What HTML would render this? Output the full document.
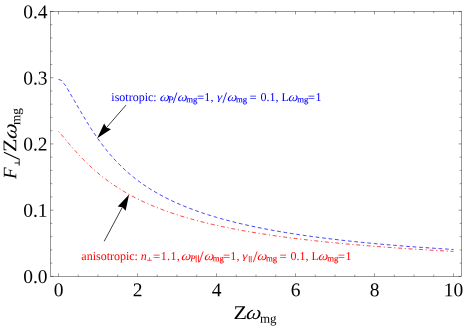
<!DOCTYPE html>
<html><head><meta charset="utf-8"><style>
html,body{margin:0;padding:0;background:#fff;}
svg{display:block;font-family:"Liberation Serif",serif;opacity:0.999;will-change:transform;}
.tk text{font-size:19.5px;fill:#000;}
.i{font-style:italic;}
</style></head><body>
<svg width="463" height="327" viewBox="0 0 463 327">
<rect width="463" height="327" fill="#fff"/>
<path d="M58.50,79.45 L59.29,79.63 L60.08,79.88 L60.87,80.18 L61.66,80.60 L62.45,81.50 L63.24,82.69 L64.03,83.72 L64.82,84.66 L65.61,85.50 L66.40,86.69 L67.19,88.28 L67.98,89.69 L68.77,91.07 L69.56,92.44 L70.35,93.80 L71.14,95.16 L71.93,96.51 L72.72,97.85 L73.51,99.20 L74.30,100.55 L75.09,101.91 L75.88,103.28 L76.67,104.65 L77.46,106.02 L78.25,107.38 L79.04,108.74 L79.83,110.10 L80.62,111.45 L81.41,112.80 L82.20,114.14 L82.99,115.48 L83.78,116.81 L84.57,118.13 L85.36,119.44 L86.15,120.74 L86.94,122.03 L87.73,123.31 L88.52,124.58 L89.31,125.84 L90.10,127.08 L90.89,128.32 L91.68,129.54 L92.47,130.75 L93.26,131.95 L94.05,133.14 L94.84,134.31 L95.63,135.47 L96.42,136.62 L97.21,137.76 L98.00,138.88 L99.97,141.63 L101.95,144.29 L103.93,146.88 L105.90,149.39 L107.88,151.81 L109.85,154.17 L111.83,156.44 L113.80,158.65 L115.78,160.78 L117.75,162.85 L119.73,164.85 L121.70,166.79 L123.68,168.67 L125.65,170.49 L127.63,172.25 L129.60,173.95 L131.58,175.61 L133.55,177.21 L135.53,178.77 L137.50,180.28 L139.48,181.74 L141.45,183.17 L143.43,184.55 L145.40,185.89 L147.38,187.20 L149.35,188.46 L151.33,189.70 L153.30,190.90 L155.28,192.07 L157.25,193.20 L159.23,194.31 L161.20,195.39 L163.18,196.44 L165.15,197.47 L167.13,198.47 L169.10,199.44 L171.08,200.40 L173.05,201.33 L175.03,202.23 L177.00,203.12 L178.98,203.99 L180.95,204.83 L182.93,205.66 L184.90,206.47 L186.88,207.26 L188.85,208.03 L190.83,208.79 L192.80,209.53 L194.78,210.26 L196.75,210.97 L198.73,211.67 L200.70,212.35 L202.68,213.02 L204.65,213.67 L206.63,214.31 L208.60,214.94 L210.58,215.56 L212.55,216.17 L214.53,216.76 L216.50,217.34 L218.48,217.91 L220.45,218.48 L222.43,219.03 L224.40,219.57 L226.38,220.10 L228.35,220.62 L230.33,221.13 L232.30,221.64 L234.28,222.13 L236.25,222.62 L238.23,223.10 L240.20,223.57 L242.18,224.03 L244.15,224.49 L246.13,224.93 L248.10,225.37 L250.08,225.81 L252.05,226.23 L254.03,226.65 L256.00,227.06 L257.98,227.47 L259.95,227.87 L261.93,228.26 L263.90,228.65 L265.88,229.03 L267.85,229.40 L269.83,229.77 L271.80,230.14 L273.78,230.50 L275.75,230.85 L277.73,231.20 L279.70,231.54 L281.68,231.88 L283.65,232.21 L285.63,232.54 L287.60,232.86 L289.58,233.18 L291.55,233.50 L293.53,233.81 L295.50,234.11 L297.48,234.41 L299.45,234.71 L301.43,235.00 L303.40,235.29 L305.38,235.58 L307.35,235.86 L309.33,236.14 L311.30,236.41 L313.28,236.68 L315.25,236.95 L317.23,237.21 L319.20,237.47 L321.18,237.73 L323.15,237.98 L325.13,238.23 L327.10,238.48 L329.08,238.72 L331.05,238.96 L333.03,239.20 L335.00,239.43 L336.98,239.67 L338.95,239.89 L340.93,240.12 L342.90,240.34 L344.88,240.56 L346.85,240.78 L348.83,241.00 L350.80,241.21 L352.78,241.42 L354.75,241.63 L356.73,241.83 L358.70,242.03 L360.68,242.23 L362.65,242.43 L364.63,242.63 L366.60,242.82 L368.58,243.01 L370.55,243.20 L372.53,243.38 L374.50,243.57 L376.48,243.75 L378.45,243.93 L380.43,244.11 L382.40,244.28 L384.38,244.46 L386.35,244.63 L388.33,244.80 L390.30,244.97 L392.28,245.13 L394.25,245.30 L396.23,245.46 L398.20,245.62 L400.18,245.78 L402.15,245.94 L404.13,246.09 L406.10,246.25 L408.08,246.40 L410.05,246.55 L412.03,246.70 L414.00,246.85 L415.98,246.99 L417.95,247.13 L419.93,247.28 L421.90,247.42 L423.88,247.56 L425.85,247.70 L427.83,247.83 L429.80,247.97 L431.78,248.10 L433.75,248.23 L435.73,248.36 L437.70,248.49 L439.68,248.62 L441.65,248.75 L443.63,248.87 L445.60,249.00 L447.58,249.12 L449.55,249.24 L451.53,249.36 L453.50,249.48" fill="none" stroke="#0000ff" stroke-width="0.75" stroke-dasharray="3.7 2.8"/>
<path d="M58.50,131.59 L59.29,132.34 L60.08,133.19 L60.87,134.08 L61.66,135.00 L62.45,135.92 L63.24,136.86 L64.03,137.80 L64.82,138.74 L65.61,139.69 L66.40,140.63 L67.19,141.57 L67.98,142.51 L68.77,143.44 L69.56,144.37 L70.35,145.30 L71.14,146.22 L71.93,147.13 L72.72,148.04 L73.51,148.94 L74.30,149.83 L75.09,150.72 L75.88,151.60 L76.67,152.47 L77.46,153.34 L78.25,154.20 L79.04,155.05 L79.83,155.89 L80.62,156.72 L81.41,157.55 L82.20,158.37 L82.99,159.18 L83.78,159.98 L84.57,160.77 L85.36,161.56 L86.15,162.34 L86.94,163.11 L87.73,163.88 L88.52,164.63 L89.31,165.38 L90.10,166.12 L90.89,166.85 L91.68,167.58 L92.47,168.29 L93.26,169.00 L94.05,169.71 L94.84,170.40 L95.63,171.09 L96.42,171.77 L97.21,172.44 L98.00,173.11 L99.97,174.74 L101.95,176.34 L103.93,177.89 L105.90,179.39 L107.88,180.86 L109.85,182.30 L111.83,183.69 L113.80,185.05 L115.78,186.37 L117.75,187.66 L119.73,188.91 L121.70,190.13 L123.68,191.32 L125.65,192.49 L127.63,193.62 L129.60,194.72 L131.58,195.80 L133.55,196.85 L135.53,197.88 L137.50,198.88 L139.48,199.86 L141.45,200.81 L143.43,201.74 L145.40,202.65 L147.38,203.54 L149.35,204.41 L151.33,205.26 L153.30,206.09 L155.28,206.90 L157.25,207.69 L159.23,208.47 L161.20,209.23 L163.18,209.97 L165.15,210.70 L167.13,211.41 L169.10,212.10 L171.08,212.79 L173.05,213.46 L175.03,214.11 L177.00,214.75 L178.98,215.38 L180.95,216.00 L182.93,216.60 L184.90,217.20 L186.88,217.78 L188.85,218.35 L190.83,218.91 L192.80,219.46 L194.78,220.00 L196.75,220.53 L198.73,221.05 L200.70,221.56 L202.68,222.06 L204.65,222.55 L206.63,223.04 L208.60,223.51 L210.58,223.98 L212.55,224.44 L214.53,224.89 L216.50,225.33 L218.48,225.77 L220.45,226.20 L222.43,226.62 L224.40,227.04 L226.38,227.45 L228.35,227.85 L230.33,228.24 L232.30,228.63 L234.28,229.02 L236.25,229.39 L238.23,229.76 L240.20,230.13 L242.18,230.49 L244.15,230.85 L246.13,231.19 L248.10,231.54 L250.08,231.88 L252.05,232.21 L254.03,232.54 L256.00,232.87 L257.98,233.19 L259.95,233.50 L261.93,233.81 L263.90,234.12 L265.88,234.42 L267.85,234.72 L269.83,235.01 L271.80,235.30 L273.78,235.59 L275.75,235.87 L277.73,236.15 L279.70,236.42 L281.68,236.69 L283.65,236.96 L285.63,237.22 L287.60,237.49 L289.58,237.74 L291.55,238.00 L293.53,238.25 L295.50,238.49 L297.48,238.74 L299.45,238.98 L301.43,239.22 L303.40,239.45 L305.38,239.68 L307.35,239.91 L309.33,240.14 L311.30,240.36 L313.28,240.58 L315.25,240.80 L317.23,241.02 L319.20,241.23 L321.18,241.44 L323.15,241.65 L325.13,241.86 L327.10,242.06 L329.08,242.26 L331.05,242.46 L333.03,242.66 L335.00,242.85 L336.98,243.04 L338.95,243.23 L340.93,243.42 L342.90,243.60 L344.88,243.79 L346.85,243.97 L348.83,244.15 L350.80,244.33 L352.78,244.50 L354.75,244.68 L356.73,244.85 L358.70,245.02 L360.68,245.19 L362.65,245.35 L364.63,245.52 L366.60,245.68 L368.58,245.84 L370.55,246.00 L372.53,246.16 L374.50,246.31 L376.48,246.47 L378.45,246.62 L380.43,246.77 L382.40,246.92 L384.38,247.07 L386.35,247.21 L388.33,247.36 L390.30,247.50 L392.28,247.65 L394.25,247.79 L396.23,247.93 L398.20,248.06 L400.18,248.20 L402.15,248.34 L404.13,248.47 L406.10,248.60 L408.08,248.73 L410.05,248.86 L412.03,248.99 L414.00,249.12 L415.98,249.24 L417.95,249.37 L419.93,249.49 L421.90,249.62 L423.88,249.74 L425.85,249.86 L427.83,249.98 L429.80,250.09 L431.78,250.21 L433.75,250.33 L435.73,250.44 L437.70,250.55 L439.68,250.67 L441.65,250.78 L443.63,250.89 L445.60,251.00 L447.58,251.11 L449.55,251.21 L451.53,251.32 L453.50,251.42" fill="none" stroke="#ff0000" stroke-width="0.75" stroke-dasharray="1.1 2.7 4 2.7"/>
<rect x="50.5" y="11.45" width="411.0" height="264.95" fill="none" stroke="#000" stroke-width="0.4"/>
<path d="M58.50,276.4 v-3.0 M58.50,11.45 v3.0 M78.25,276.4 v-1.8 M78.25,11.45 v1.8 M98.00,276.4 v-1.8 M98.00,11.45 v1.8 M117.75,276.4 v-1.8 M117.75,11.45 v1.8 M137.50,276.4 v-3.0 M137.50,11.45 v3.0 M157.25,276.4 v-1.8 M157.25,11.45 v1.8 M177.00,276.4 v-1.8 M177.00,11.45 v1.8 M196.75,276.4 v-1.8 M196.75,11.45 v1.8 M216.50,276.4 v-3.0 M216.50,11.45 v3.0 M236.25,276.4 v-1.8 M236.25,11.45 v1.8 M256.00,276.4 v-1.8 M256.00,11.45 v1.8 M275.75,276.4 v-1.8 M275.75,11.45 v1.8 M295.50,276.4 v-3.0 M295.50,11.45 v3.0 M315.25,276.4 v-1.8 M315.25,11.45 v1.8 M335.00,276.4 v-1.8 M335.00,11.45 v1.8 M354.75,276.4 v-1.8 M354.75,11.45 v1.8 M374.50,276.4 v-3.0 M374.50,11.45 v3.0 M394.25,276.4 v-1.8 M394.25,11.45 v1.8 M414.00,276.4 v-1.8 M414.00,11.45 v1.8 M433.75,276.4 v-1.8 M433.75,11.45 v1.8 M453.50,276.4 v-3.0 M453.50,11.45 v3.0 M50.5,276.40 h3.0 M461.5,276.40 h-3.0 M50.5,263.15 h1.8 M461.5,263.15 h-1.8 M50.5,249.90 h1.8 M461.5,249.90 h-1.8 M50.5,236.66 h1.8 M461.5,236.66 h-1.8 M50.5,223.41 h1.8 M461.5,223.41 h-1.8 M50.5,210.16 h3.0 M461.5,210.16 h-3.0 M50.5,196.91 h1.8 M461.5,196.91 h-1.8 M50.5,183.67 h1.8 M461.5,183.67 h-1.8 M50.5,170.42 h1.8 M461.5,170.42 h-1.8 M50.5,157.17 h1.8 M461.5,157.17 h-1.8 M50.5,143.92 h3.0 M461.5,143.92 h-3.0 M50.5,130.68 h1.8 M461.5,130.68 h-1.8 M50.5,117.43 h1.8 M461.5,117.43 h-1.8 M50.5,104.18 h1.8 M461.5,104.18 h-1.8 M50.5,90.94 h1.8 M461.5,90.94 h-1.8 M50.5,77.69 h3.0 M461.5,77.69 h-3.0 M50.5,64.44 h1.8 M461.5,64.44 h-1.8 M50.5,51.19 h1.8 M461.5,51.19 h-1.8 M50.5,37.95 h1.8 M461.5,37.95 h-1.8 M50.5,24.70 h1.8 M461.5,24.70 h-1.8 M50.5,11.45 h3.0 M461.5,11.45 h-3.0" fill="none" stroke="#000" stroke-width="0.4"/>
<g class="tk"><text transform="translate(58.50,296.30) rotate(0.03)" text-anchor="middle">0</text><text transform="translate(137.50,296.30) rotate(0.03)" text-anchor="middle">2</text><text transform="translate(216.50,296.30) rotate(0.03)" text-anchor="middle">4</text><text transform="translate(295.50,296.30) rotate(0.03)" text-anchor="middle">6</text><text transform="translate(374.50,296.30) rotate(0.03)" text-anchor="middle">8</text><text transform="translate(453.50,296.30) rotate(0.03)" text-anchor="middle">10</text><text transform="translate(47.60,283.10) rotate(0.03)" text-anchor="end">0.0</text><text transform="translate(47.60,216.86) rotate(0.03)" text-anchor="end">0.1</text><text transform="translate(47.60,150.62) rotate(0.03)" text-anchor="end">0.2</text><text transform="translate(47.60,84.39) rotate(0.03)" text-anchor="end">0.3</text><text transform="translate(47.60,18.15) rotate(0.03)" text-anchor="end">0.4</text></g>
<line x1="126.00" y1="105.10" x2="106.57" y2="127.50" stroke="#000" stroke-width="0.75"/><path d="M97.20,138.30 L104.15,123.42 L106.57,127.50 L110.95,129.31 Z" fill="#000"/><line x1="104.20" y1="241.30" x2="122.37" y2="207.22" stroke="#000" stroke-width="0.75"/><path d="M129.10,194.60 L125.64,210.66 L122.37,207.22 L117.70,206.42 Z" fill="#000"/>
<g fill="#0000ff" color="#0000ff" font-size="12px">
<text transform="translate(111.30,101.00) rotate(0.03)">isotropic:</text>
<text transform="translate(159.60,101.00) rotate(0.03) scale(1.15,1.03) skewX(-8)" class="i">ω</text>
<text transform="translate(168.10,102.60) rotate(0.03)" class="i" font-size="9px" stroke="currentColor" stroke-width="0.1">P</text>
<path d="M173.20,103.10 L176.95,92.50" stroke="#0000ff" stroke-width="0.85" fill="none"/>
<text transform="translate(177.20,101.00) rotate(0.03) scale(1.15,1.03) skewX(-8)" class="i">ω</text>
<text transform="translate(186.20,102.30) rotate(0.03)" font-size="8.7px" stroke="currentColor" stroke-width="0.12">mg</text>
<text transform="translate(197.30,101.20) rotate(0.03)" stroke="currentColor" stroke-width="0.2">=</text>
<text transform="translate(204.30,101.00) rotate(0.03)" letter-spacing="0.3">1,</text>
<text transform="translate(217.00,100.00) rotate(0.03) scale(1.1,0.82)" class="i">γ</text>
<path d="M222.80,103.10 L226.55,92.50" stroke="#0000ff" stroke-width="0.85" fill="none"/>
<text transform="translate(227.00,101.00) rotate(0.03) scale(1.15,1.03) skewX(-8)" class="i">ω</text>
<text transform="translate(235.90,102.30) rotate(0.03)" font-size="8.7px" stroke="currentColor" stroke-width="0.12">mg</text>
<text transform="translate(249.80,101.20) rotate(0.03)" stroke="currentColor" stroke-width="0.2">=</text>
<text transform="translate(260.55,101.00) rotate(0.03)">0.1,</text>
<text transform="translate(281.60,101.00) rotate(0.03)">L</text>
<text transform="translate(287.90,101.00) rotate(0.03) scale(1.15,1.03) skewX(-8)" class="i">ω</text>
<text transform="translate(297.30,102.30) rotate(0.03)" font-size="8.7px" stroke="currentColor" stroke-width="0.12">mg</text>
<text transform="translate(308.00,101.20) rotate(0.03)" stroke="currentColor" stroke-width="0.2">=</text>
<text transform="translate(315.60,101.00) rotate(0.03)">1</text>
</g>
<g fill="#ff0000" color="#ff0000" font-size="12px">
<text transform="translate(81.30,260.00) rotate(0.03)">anisotropic:</text>
<text transform="translate(140.70,260.00) rotate(0.03)" class="i">n</text>
<path d="M147.1,260.3 h4.7 M149.45,260.3 v-3.0" stroke="#ff0000" stroke-width="0.65" fill="none"/>
<text transform="translate(153.20,260.20) rotate(0.03)" stroke="currentColor" stroke-width="0.2">=</text>
<text transform="translate(160.65,260.00) rotate(0.03)" letter-spacing="0.4">1.1,</text>
<text transform="translate(181.10,260.00) rotate(0.03) scale(1.15,1.03) skewX(-8)" class="i">ω</text>
<text transform="translate(190.20,261.30) rotate(0.03)" class="i" font-size="8.6px" stroke="currentColor" stroke-width="0.15">P</text>
<path d="M196.20,255.20 v7.3 M198.50,255.20 v7.3" stroke="#ff0000" stroke-width="0.75" fill="none"/>
<path d="M199.40,262.10 L203.15,251.50" stroke="#ff0000" stroke-width="0.85" fill="none"/>
<text transform="translate(204.10,260.00) rotate(0.03) scale(1.15,1.03) skewX(-8)" class="i">ω</text>
<text transform="translate(212.70,261.30) rotate(0.03)" font-size="8.7px" stroke="currentColor" stroke-width="0.12">mg</text>
<text transform="translate(223.30,260.20) rotate(0.03)" stroke="currentColor" stroke-width="0.2">=</text>
<text transform="translate(230.30,260.00) rotate(0.03)" letter-spacing="0.3">1,</text>
<text transform="translate(242.20,259.00) rotate(0.03) scale(1.1,0.82)" class="i">γ</text>
<path d="M249.30,256.00 v6.4 M251.20,256.00 v6.4" stroke="#ff0000" stroke-width="0.75" fill="none"/>
<path d="M253.30,262.10 L257.05,251.50" stroke="#ff0000" stroke-width="0.85" fill="none"/>
<text transform="translate(257.10,260.00) rotate(0.03) scale(1.15,1.03) skewX(-8)" class="i">ω</text>
<text transform="translate(265.90,261.30) rotate(0.03)" font-size="8.7px" stroke="currentColor" stroke-width="0.12">mg</text>
<text transform="translate(279.80,260.20) rotate(0.03)" stroke="currentColor" stroke-width="0.2">=</text>
<text transform="translate(290.55,260.00) rotate(0.03)">0.1,</text>
<text transform="translate(311.60,260.00) rotate(0.03)">L</text>
<text transform="translate(317.90,260.00) rotate(0.03) scale(1.15,1.03) skewX(-8)" class="i">ω</text>
<text transform="translate(327.30,261.30) rotate(0.03)" font-size="8.7px" stroke="currentColor" stroke-width="0.12">mg</text>
<text transform="translate(338.00,260.20) rotate(0.03)" stroke="currentColor" stroke-width="0.2">=</text>
<text transform="translate(345.60,260.00) rotate(0.03)">1</text>
</g>
<g fill="#000" font-size="19px"><text transform="translate(233.50,318.90) rotate(0.03) scale(1.16,1.02)">Z</text><text transform="translate(245.60,318.90) rotate(0.03) scale(1.13,1.03) skewX(-8)" class="i">ω</text><text transform="translate(260.00,322.80) rotate(0.03)" font-size="13px">mg</text><g transform="translate(16.2,178.9) rotate(-89.97)"><text x="0" y="0" class="i">F</text><path d="M13.3,3.0 h5.4 M15.9,3.0 v-4.6" stroke="#000" stroke-width="0.9" fill="none"/><path d="M19.4,3.5 L26.6,-12.3" stroke="#000" stroke-width="1.1" fill="none"/><text transform="translate(26.9,0) scale(1.16,1.02)">Z</text><text transform="translate(39.3,0.3) scale(1.15,1.05) skewX(-8)" class="i">ω</text><text x="53.8" y="3.9" font-size="13.3px">mg</text></g></g>
</svg>
</body></html>
